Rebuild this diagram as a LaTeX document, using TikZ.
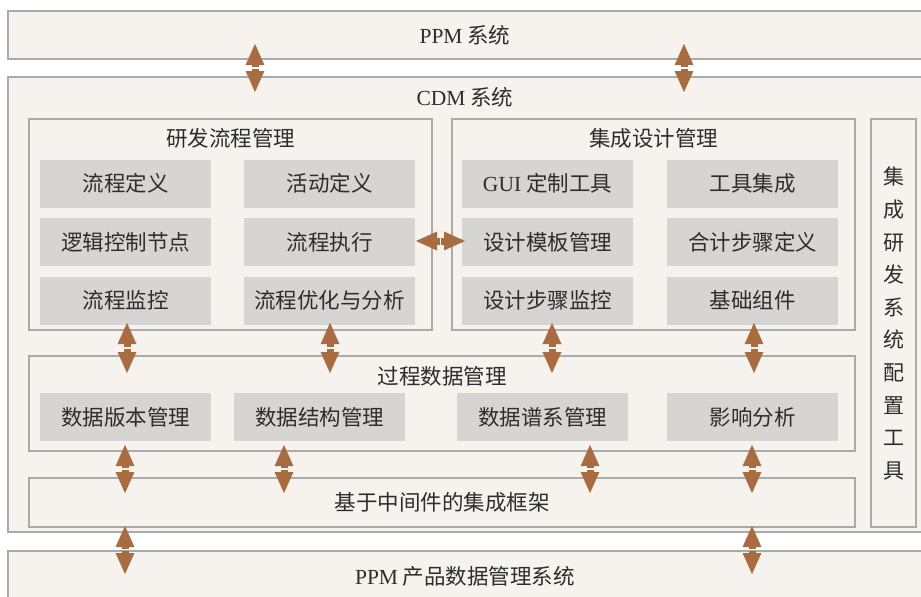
\documentclass[tikz,border=0pt]{standalone}
\usepackage{fontspec}
\setmainfont{Liberation Serif}
\newfontfamily\cjk{Noto Sans CJK SC}
\newfontfamily\lat{Liberation Serif}
\usetikzlibrary{arrows.meta}
\definecolor{boxbg}{RGB}{246,243,238}
\definecolor{boxline}{RGB}{170,170,170}
\definecolor{cell}{RGB}{214,213,211}
\definecolor{arr}{RGB}{168,108,64}
\definecolor{txt}{RGB}{45,45,45}
\tikzset{
  frame/.style={draw=boxline, line width=2pt, fill=boxbg, inner sep=0pt, rectangle},
  cellbox/.style={fill=cell, inner sep=0pt, minimum width=171pt, minimum height=48pt, text=txt, font=\cjk\fontsize{21.5}{24}\selectfont},
  ttl/.style={text=txt, font=\cjk\fontsize{21.5}{24}\selectfont, inner sep=0pt},
  half/.style={draw=arr, line width=7pt, -{Triangle[length=22pt,width=17pt]}}
}
\begin{document}
\begin{tikzpicture}[x=1pt,y=-1pt]
\useasboundingbox (0,0) rectangle (921,597);
\clip (0,0) rectangle (921,597);
% outer frames
\node[frame, minimum width=914pt, minimum height=48pt] (ppm) at (465,35) {};
\node[ttl] (ppmt) at (465,35) {{\lat PPM} 系统};
\node[frame, minimum width=914pt, minimum height=455pt] (cdm) at (465,304.5) {};
\node[ttl] (cdmt) at (465,97) {{\lat CDM} 系统};
\node[frame, minimum width=914pt, minimum height=50pt] (pdm) at (465,576) {};
\node[ttl] (pdmt) at (465,576) {{\lat PPM} 产品数据管理系统};
% groups
\node[frame, minimum width=403pt, minimum height=211pt] (rd) at (230.5,224.5) {};
\node[ttl] (rdt) at (230.5,138) {研发流程管理};
\node[frame, minimum width=403pt, minimum height=211pt] (jc) at (653.5,224.5) {};
\node[ttl] (jct) at (653.5,138) {集成设计管理};
\node[frame, minimum width=45pt, minimum height=408pt] (cfg) at (893.5,323) {};
\node[ttl, align=center, font=\cjk\fontsize{21}{32.6}\selectfont] (cfgt) at (893.5,323.5) {集\\成\\研\\发\\系\\统\\配\\置\\工\\具};
\node[frame, minimum width=826pt, minimum height=95pt] (gc) at (442,403.5) {};
\node[ttl] (gct) at (442,376) {过程数据管理};
\node[frame, minimum width=826pt, minimum height=49pt] (mw) at (442,502.5) {};
\node[ttl] (mwt) at (442,502.5) {基于中间件的集成框架};
% cells
\node[cellbox] (c11) at (125.5,183.5) {流程定义};
\node[cellbox] (c12) at (329.5,183.5) {活动定义};
\node[cellbox] (c21) at (125.5,242) {逻辑控制节点};
\node[cellbox] (c22) at (329.5,242) {流程执行};
\node[cellbox] (c31) at (125.5,300.5) {流程监控};
\node[cellbox] (c32) at (329.5,300.5) {流程优化与分析};
\node[cellbox] (d11) at (547.5,183.5) {{\lat GUI} 定制工具};
\node[cellbox] (d12) at (752.5,183.5) {工具集成};
\node[cellbox] (d21) at (547.5,242) {设计模板管理};
\node[cellbox] (d22) at (752.5,242) {合计步骤定义};
\node[cellbox] (d31) at (547.5,300.5) {设计步骤监控};
\node[cellbox] (d32) at (752.5,300.5) {基础组件};
\node[cellbox] (g1) at (125.5,417) {数据版本管理};
\node[cellbox] (g2) at (319.5,417) {数据结构管理};
\node[cellbox] (g3) at (542.5,417) {数据谱系管理};
\node[cellbox] (g4) at (752.5,417) {影响分析};
% arrows (two halves each)
\foreach \n/\x/\a/\b in {a1/255/43/93, a2/684/43/93,
  b1/127/322/374, b2/330/322/374, b3/552/322/374, b4/754/322/374,
  e1/125/444/494, e2/284/444/494, e3/590/444/494, e4/752/444/494,
  f1/125/525/575, f2/752/525/575}{
  \coordinate (\n s) at (\x,\a);
  \coordinate (\n e) at (\x,\b);
  \coordinate (\n u) at (\x,{(\a+\b)/2-0.7});
  \coordinate (\n d) at (\x,{(\a+\b)/2+0.7});
  \draw[half] (\n u) -- (\n s);
  \draw[half] (\n d) -- (\n e);
}
\coordinate (hs) at (415,241);
\coordinate (he) at (466,241);
\coordinate (hu) at (439.8,241);
\coordinate (hd) at (441.2,241);
\draw[half] (hu) -- (hs);
\draw[half] (hd) -- (he);
\end{tikzpicture}
\end{document}
